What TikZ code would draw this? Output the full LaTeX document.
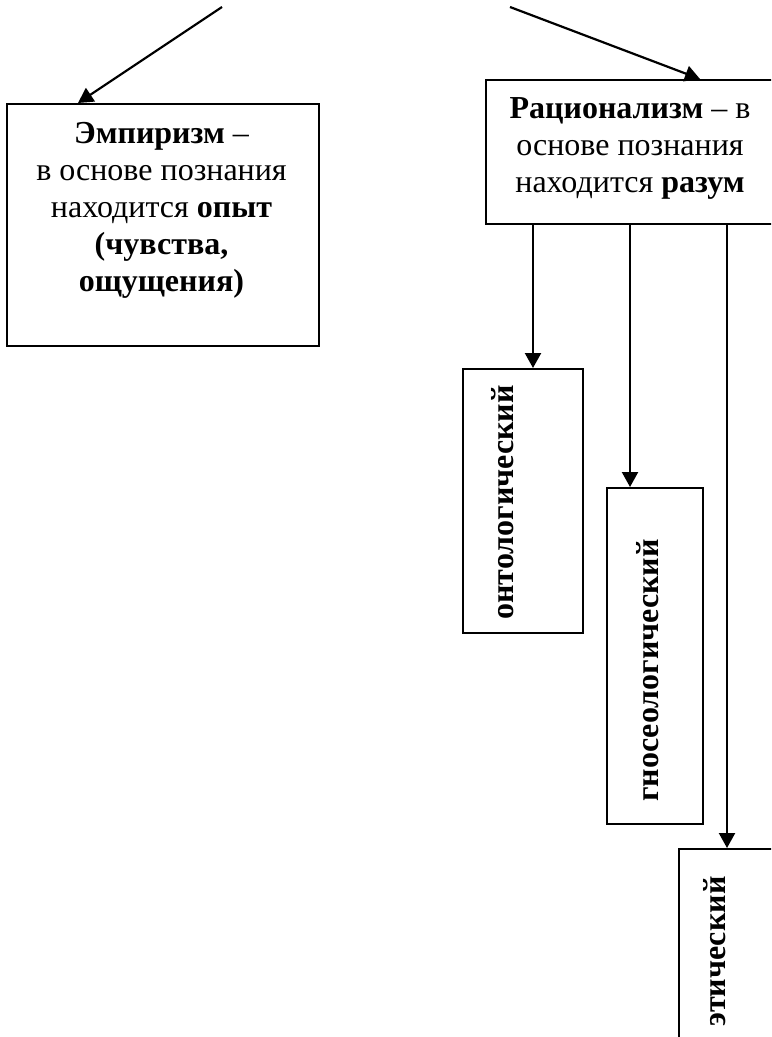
\documentclass[tikz,border=0pt]{standalone}
\usepackage{fontspec}
\setmainfont{Liberation Serif}
\usetikzlibrary{arrows.meta,calc}
\begin{document}
\begin{tikzpicture}[x=0.5pt,y=-0.5pt,
  box/.style={draw, line width=1.1pt, inner sep=0pt, anchor=north west},
  txt/.style={font=\fontsize{16pt}{18.5pt}\selectfont, inner sep=0pt, align=center},
  vtxt/.style={font=\fontsize{16pt}{18.5pt}\selectfont\bfseries, inner sep=0pt, rotate=90, anchor=base west},
  arr/.style={line width=1.1pt, -{Triangle[length=7.5pt,width=8pt]}}]
\useasboundingbox (0,0) rectangle (771,1037);
\clip (0,0) rectangle (771,1037);
% boxes
\node[box, minimum width=156.25pt, minimum height=121pt] (emp) at (5.5,103) {};
\node[box, minimum width=150pt, minimum height=72pt] (rat) at (485,79) {};
\node[box, minimum width=60pt, minimum height=132pt] (ont) at (462,368) {};
\node[box, minimum width=48pt, minimum height=168pt] (gno) at (606,487) {};
\node[box, minimum width=60pt, minimum height=100pt] (eth) at (678,848) {};
% texts
\node[txt, anchor=north] (empt) at (161.5,122) {\textbf{Эмпиризм} –\\в основе познания\\находится \textbf{опыт}\\\textbf{(чувства,}\\\textbf{ощущения)}};
\node[txt, anchor=north] (ratt) at (630,97) {\textbf{Рационализм} – в\\основе познания\\находится \textbf{разум}};
\node[vtxt] (ontt) at (513,620) {онтологический};
\node[vtxt] (gnot) at (658,802) {гносеологический};
\node[vtxt] (etht) at (725,1027) {этический};
% connectors
\coordinate (s1) at (222,7);
\coordinate (s2) at (510,7);
\draw[arr] (s1) -- ([xshift=36.25pt]emp.north west);
\draw[arr] (s2) -- ([xshift=107.5pt]rat.north west);
\coordinate (r1) at ([xshift=24pt]rat.south west);
\coordinate (r2) at ([xshift=72.5pt]rat.south west);
\coordinate (r3) at ([xshift=121pt]rat.south west);
\draw[arr] (r1) -- (r1 |- ont.north);
\draw[arr] (r2) -- (r2 |- gno.north);
\draw[arr] (r3) -- (r3 |- eth.north);
\end{tikzpicture}
\end{document}
